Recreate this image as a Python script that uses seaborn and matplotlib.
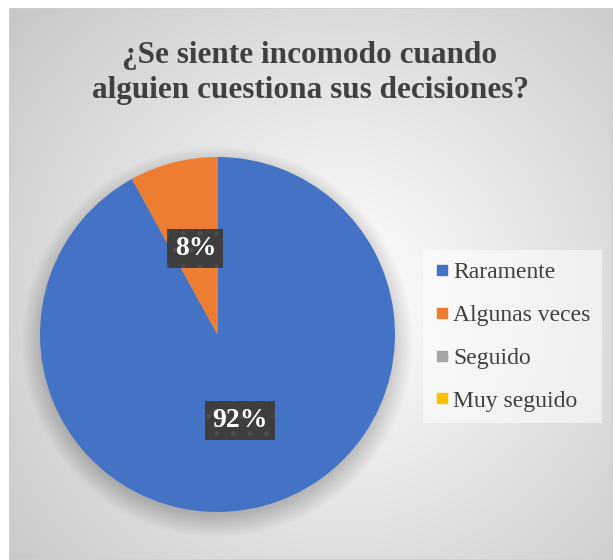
import numpy as np
import matplotlib
matplotlib.use("Agg")
import matplotlib.pyplot as plt
from matplotlib.lines import Line2D
from matplotlib.patches import Circle
import seaborn as sns

# Survey answers and their shares (percent)
categories = ["Raramente", "Algunas veces", "Seguido", "Muy seguido"]
shares = [92, 8, 0, 0]
title = "¿Se siente incomodo cuando\nalguien cuestiona sus decisiones?"

sns.set_style("white")
plt.rcParams["font.family"] = ["Liberation Serif", "DejaVu Serif"]
colors = sns.color_palette(["#4472C4", "#ED7D31", "#A5A5A5", "#FFC000"])
text_color = "#404040"

W, H = 613, 560
fig = plt.figure(figsize=(W / 100, H / 100), dpi=100)
fig.patch.set_facecolor("white")

# Chart area with a soft radial grey-to-white fill
x0, y0, x1, y1 = 9, 8, 612, 560
bg = fig.add_axes([x0 / W, 1 - y1 / H, (x1 - x0) / W, (y1 - y0) / H])
gx, gy = np.meshgrid(np.arange(x1 - x0), np.arange(y1 - y0))
d = np.sqrt(((gx - 330) / 400.0) ** 2 + ((gy - 290) / 400.0) ** 2)
shade = np.clip(256 - 52 * d, 0, 255) / 255.0
img = np.dstack([shade, shade, shade])
bg.imshow(img, aspect="auto", interpolation="bilinear")
bg.set_axis_off()
bg.add_patch(plt.Rectangle((0, 0), 1, 1, transform=bg.transAxes, fill=False,
                           edgecolor="#d0d0d0", lw=1.2))

fig.text(310 / W, 1 - 73 / H, title, ha="center", va="center", fontsize=22.5,
         fontweight="bold", color=text_color, linespacing=1.3)

# Pie
cx, cy, r = 217.5, 334.5, 177.5
ax = fig.add_axes([(cx - r) / W, 1 - (cy + r) / H, 2 * r / W, 2 * r / H])
ax.set_axis_off()

# soft drop shadow under the pie
for k in range(16):
    ax.add_patch(Circle((0, -0.04), 0.98 + 0.008 * k, color="black",
                        alpha=0.013, lw=0, zorder=0, clip_on=False))

wedges, _, autotexts = ax.pie(
    shares, colors=colors, startangle=90, counterclock=False,
    autopct=lambda p: f"{p:.0f}%" if p > 0 else "", pctdistance=0.5,
    wedgeprops=dict(linewidth=0),
    textprops=dict(color="white", fontsize=20, fontweight="bold"),
)
for t in autotexts:
    t.set_bbox(dict(boxstyle="square,pad=0.26", facecolor="#3e3e3e",
                    edgecolor="#4e4e4e", linewidth=0, hatch="."))
ax.set_xlim(-1, 1)
ax.set_ylim(-1, 1)

handles = [Line2D([0], [0], marker="s", linestyle="none", markersize=7.5,
                  markerfacecolor=c, markeredgecolor=c) for c in colors]
leg = fig.legend(handles, categories, loc="upper left",
                 bbox_to_anchor=(423 / W, 1 - 250 / H), fontsize=17,
                 frameon=True, fancybox=False, handlelength=0.6,
                 handletextpad=0.18, labelspacing=0.9, borderpad=0.5,
                 borderaxespad=0)
frame = leg.get_frame()
frame.set_facecolor("white")
frame.set_alpha(0.55)
frame.set_linewidth(0)
for t in leg.get_texts():
    t.set_color(text_color)

fig.savefig("out.png", dpi=100)
